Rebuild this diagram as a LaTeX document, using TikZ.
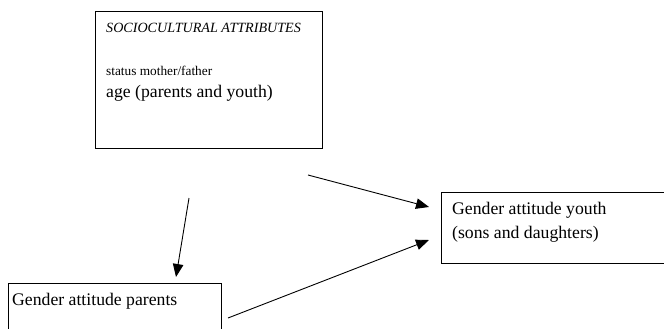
\documentclass[tikz,border=0pt]{standalone}
\usepackage{fontspec}
\setmainfont{Liberation Serif}
\usetikzlibrary{arrows.meta}
\begin{document}
\begin{tikzpicture}[x=1pt,y=-1pt,
  boxline/.style={draw=black, line width=1pt, inner sep=0pt, anchor=north west},
  lbl/.style={anchor=base west, inner sep=0pt, font=\fontsize{17.7}{20}\selectfont},
  arr/.style={line width=0.9pt, -{Triangle[length=13pt,width=10.5pt]}}]
\useasboundingbox (0,0) rectangle (664,329);
\clip (0,0) rectangle (664,329);
% boxes
\node[boxline, minimum width=227pt, minimum height=137pt] (soc) at (95,11) {};
\node[boxline, minimum width=213pt, minimum height=70pt] (par) at (8,283) {};
\node[boxline, minimum width=240pt, minimum height=71pt] (you) at (441,192) {};
% texts
\node[lbl, font=\fontsize{14.1}{16}\selectfont\itshape] (head) at (106,33) {SOCIOCULTURAL ATTRIBUTES};
\node[lbl, font=\fontsize{13.3}{15}\selectfont] (stat) at (106,76) {status mother/father};
\node[lbl] (age) at (106,97) {age (parents and youth)};
\node[lbl] (ptxt) at (12,305) {Gender attitude parents};
\node[lbl] (ytxt1) at (452,214) {Gender attitude youth};
\node[lbl] (ytxt2) at (452,238) {(sons and daughters)};
% arrow ends
\coordinate (a1s) at (189,198);
\coordinate (a1e) at (176,277);
\coordinate (a2s) at (308,175);
\coordinate (a2e) at (429,207);
\coordinate (a3s) at (228,318);
\coordinate (a3e) at (429,240);
\draw[arr] (a1s) -- (a1e);
\draw[arr] (a2s) -- (a2e);
\draw[arr] (a3s) -- (a3e);
\end{tikzpicture}
\end{document}
